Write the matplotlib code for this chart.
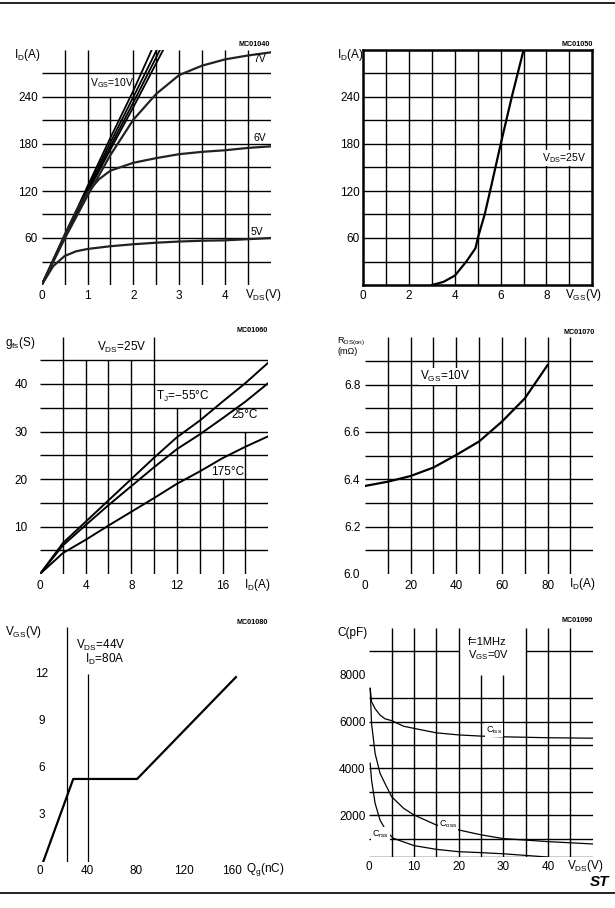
import matplotlib
matplotlib.use("Agg")
import matplotlib.pyplot as plt
from matplotlib.lines import Line2D

plt.rcParams['font.family'] = ['Liberation Sans', 'DejaVu Sans']
plt.rcParams['mathtext.fontset'] = 'custom'
plt.rcParams['mathtext.rm'] = 'Liberation Sans'
plt.rcParams['mathtext.it'] = 'Liberation Sans:italic'
plt.rcParams['mathtext.bf'] = 'Liberation Sans:bold'

# ---------------- data ----------------
# Output characteristics (ID vs VDS)
vds_10v = [0, 0.5, 1.0, 1.5, 2.0, 2.40]
id_10v = [0, 63, 126, 188, 248, 300]
vds_9v = [0, 0.5, 1.0, 1.5, 2.0, 2.51]
id_9v = [0, 62, 123, 182, 240, 300]
vds_8v = [0, 0.5, 1.0, 1.5, 2.0, 2.58]
id_8v = [0, 61, 120, 177, 233, 300]
vds_75v = [0, 0.5, 1.0, 1.5, 2.0, 2.65]
id_75v = [0, 60, 118, 173, 227, 300]
vds_7v = [0, 0.5, 1.0, 1.5, 2.0, 2.5, 3.0, 3.5, 4.0, 4.5, 5.0]
id_7v = [0, 59, 114, 166, 211, 244, 268, 280, 288, 293, 297]
vds_6v = [0, 0.25, 0.5, 0.75, 1.0, 1.25, 1.5, 2.0, 2.5, 3.0, 3.5, 4.0, 4.5, 5.0]
id_6v = [0, 32, 64, 94, 118, 135, 146, 156, 162, 167, 170, 172, 175, 177]
vds_5v = [0, 0.25, 0.5, 0.75, 1.0, 1.5, 2.0, 2.5, 3.0, 3.5, 4.0, 4.5, 5.0]
id_5v = [0, 24, 37, 43, 46, 49.5, 52, 54, 55.5, 56.5, 57, 58.5, 60]

# Transfer characteristics (ID vs VGS)
vgs_tr = [3.0, 3.5, 4.0, 4.5, 4.9, 5.0, 5.3, 5.6, 6.0, 6.5, 7.0]
id_tr = [0, 4, 12, 30, 47, 60, 90, 128, 180, 242, 300]

# Transconductance (gfs vs ID)
id_gfs = [0, 2, 4, 6, 8, 10, 12, 14, 16, 18, 20]
gfs_m55 = [0, 6.5, 11.0, 15.5, 20.0, 24.5, 28.8, 32.3, 36.3, 40.2, 44.5]
gfs_25 = [0, 6.0, 10.3, 14.5, 18.5, 22.5, 26.3, 29.4, 32.8, 36.3, 40.2]
gfs_175 = [0, 4.4, 7.2, 10.2, 13.1, 16.0, 19.0, 21.6, 24.4, 26.8, 29.0]

# Static drain-source on resistance
id_rds = [0, 10, 20, 30, 40, 50, 60, 70, 80]
rds_on = [6.372, 6.39, 6.414, 6.45, 6.503, 6.56, 6.644, 6.742, 6.883]

# Gate charge
qg_nc = [3, 28, 81, 163]
vgs_qg = [0, 5.3, 5.3, 11.8]

# Capacitance variations
vds_c = [0.2, 0.5, 1.3, 2.4, 3.5, 5, 7.7, 10, 15, 20, 25, 30, 40, 50]
c_iss = [7420, 6850, 6550, 6280, 6120, 6040, 5800, 5710, 5520, 5430, 5380, 5350, 5310, 5290]
c_oss = [7420, 5930, 4640, 3790, 3360, 2790, 2290, 2010, 1580, 1370, 1160, 1000, 870, 770]
vds_crss = [0.2, 0.5, 1.3, 2.4, 3.9, 5.4, 10, 15, 20, 25, 30, 35, 40]
c_rss = [4220, 3500, 2510, 1790, 1290, 1010, 700, 540, 440, 400, 350, 280, 210]

# tick labels
p1_xt = [0, 1, 2, 3, 4]; p1_yt = [60, 120, 180, 240]
p2_xt = [0, 2, 4, 6, 8]; p2_yt = [60, 120, 180, 240]
p3_xt = [0, 4, 8, 12, 16]; p3_yt = [10, 20, 30, 40]
p4_xt = [0, 20, 40, 60, 80]; p4_yt = [6.0, 6.2, 6.4, 6.6, 6.8]
p5_xt = [0, 40, 80, 120, 160]; p5_yt = [3, 6, 9, 12]
p6_xt = [0, 10, 20, 30, 40]; p6_yt = [2000, 4000, 6000, 8000]

# ---------------- figure ----------------
W, H = 615, 908
fig = plt.figure(figsize=(W / 100, H / 100), dpi=100)

GRID = dict(colors='black', lw=1.0)
TICK = 8.5
ANN = 8.0


def sub(base, s, tail=''):
    return base + r'$_\mathrm{' + s + '}$' + tail


def add_ax(l, r, t, b):
    ax = fig.add_axes([l / W, 1 - b / H, (r - l) / W, (b - t) / H])
    for sp in ax.spines.values():
        sp.set_visible(False)
    return ax


def ftext(x, y, s, **kw):
    kw.setdefault('fontsize', ANN)
    fig.text(x / W, 1 - y / H, s, **kw)


def mc(x, y, s):
    ftext(x, y, s, ha='right', va='center', fontsize=5.2, fontweight='bold')


def ticks(ax, xt, yt, xpad, ypad, yfmt=None):
    ax.set_xticks(xt, [str(v) for v in xt])
    if yt is not None:
        ax.set_yticks(yt, [yfmt(v) if yfmt else str(v) for v in yt])
    else:
        ax.set_yticks([])
    ax.tick_params(axis='x', length=0, pad=xpad, labelsize=TICK)
    ax.tick_params(axis='y', length=0, pad=ypad, labelsize=TICK)


def label(ax, x, y, s, **kw):
    kw.setdefault('fontsize', ANN)
    kw.setdefault('va', 'center')
    ax.text(x, y, s, **kw)


WB = dict(facecolor='white', edgecolor='none', pad=0.6)

# page rules
fig.add_artist(Line2D([0, 1], [1 - 3 / H] * 2, color='black', lw=1.2))
fig.add_artist(Line2D([0, 1], [1 - 893 / H] * 2, color='black', lw=1.2))
ftext(600, 882, 'ST', ha='center', va='center', fontsize=11,
      fontweight='bold', fontstyle='italic')

# ---- Panel 1: output characteristics ----
ax1 = add_ax(41.7, 270.8, 50, 285)
ax1.set_xlim(0, 5); ax1.set_ylim(0, 300)
ax1.vlines([0.5, 1, 1.5, 2, 2.5, 3, 3.5, 4, 4.5], 0,
           [300, 300, 240, 300, 300, 300, 300, 300, 300], **GRID)
ax1.hlines([30, 60, 90, 120, 150, 180, 210, 240, 270], 0, 5, **GRID)
for vx, iy in [(vds_10v, id_10v), (vds_9v, id_9v), (vds_8v, id_8v),
               (vds_75v, id_75v)]:
    ax1.plot(vx, iy, color='black', lw=1.3)
for vx, iy in [(vds_7v, id_7v), (vds_6v, id_6v), (vds_5v, id_5v)]:
    ax1.plot(vx, iy, color='#222222', lw=1.6)
label(ax1, 1.05, 258, sub('V', 'GS', '=10V'), fontsize=7.5)
label(ax1, 4.62, 289, '7V', fontsize=7.5)
label(ax1, 4.62, 188, '6V', fontsize=7.5)
label(ax1, 4.55, 68, '5V', fontsize=7.5)
ticks(ax1, p1_xt, p1_yt, 3.3, 2.8)
ftext(14, 55, sub('I', 'D', '(A)'), ha='left', va='center', fontsize=TICK)
ftext(263, 295, sub('V', 'DS', '(V)'), ha='center', va='center', fontsize=TICK)
mc(270, 45, 'MC01040')

# ---- Panel 2: transfer characteristics ----
ax2 = add_ax(363.3, 592.3, 50, 285)
ax2.set_xlim(0, 10); ax2.set_ylim(0, 300)
for sp in ax2.spines.values():
    sp.set_visible(True); sp.set_linewidth(1.8)
ax2.vlines(range(1, 10), 0, 300, **GRID)
ax2.hlines([30, 60, 90, 120, 150, 180, 210, 240, 270], 0, 10, **GRID)
ax2.plot(vgs_tr, id_tr, color='black', lw=1.6)
label(ax2, 7.8, 162, sub('V', 'DS', '=25V'), fontsize=7.5, bbox=WB)
ticks(ax2, p2_xt, p2_yt, 3.3, 2.5)
ftext(337, 55, sub('I', 'D', '(A)'), ha='left', va='center', fontsize=TICK)
ftext(584, 295, sub('V', 'GS', '(V)'), ha='center', va='center', fontsize=TICK)
mc(593, 45, 'MC01050')

# ---- Panel 3: transconductance ----
ax3 = add_ax(40, 268.3, 336.5, 574)
ax3.set_xlim(0, 20); ax3.set_ylim(0, 50)
ax3.vlines([2, 4, 6, 8, 10, 12, 14, 16, 18], 0,
           [50, 45, 45, 45, 50, 35, 35, 20, 30], **GRID)
ax3.hlines([5, 10, 15, 20, 25, 30, 35, 40, 45], 0, 20, **GRID)
for g in (gfs_m55, gfs_25, gfs_175):
    ax3.plot(id_gfs, g, color='black', lw=1.4)
label(ax3, 5.0, 47.6, sub('V', 'DS', '=25V'), fontsize=8.5)
label(ax3, 10.2, 37.4, sub('T', 'J', '=\u221255\u00b0C'), fontsize=8.5)
label(ax3, 16.8, 33.5, '25\u00b0C', fontsize=8.5)
label(ax3, 15.0, 21.4, '175\u00b0C', fontsize=8.5)
ticks(ax3, p3_xt, p3_yt, 4.0, 9.0)
ftext(5, 343, sub('g', 'fs', '(S)'), ha='left', va='center', fontsize=TICK)
ftext(257.5, 585, sub('I', 'D', '(A)'), ha='center', va='center', fontsize=TICK)
mc(268, 331, 'MC01060')

# ---- Panel 4: RDS(on) ----
ax4 = add_ax(365, 593.3, 337.3, 574)
ax4.set_xlim(0, 100); ax4.set_ylim(6.0, 7.0)
ax4.vlines([10, 20, 30, 40, 50, 60, 70, 80, 90], 6.0, 7.0, **GRID)
ax4.hlines([6.1, 6.2, 6.3, 6.4, 6.5, 6.6, 6.7, 6.8, 6.9], 0, 100, **GRID)
ax4.plot(id_rds, rds_on, color='black', lw=1.6)
label(ax4, 24, 6.834, sub('V', 'GS', '=10V'), fontsize=8.5, bbox=WB)
ticks(ax4, p4_xt, p4_yt, 4.0, 3.4, yfmt=lambda v: f'{v:.1f}')
ftext(337, 342, sub('R', 'DS(on)'), ha='left', va='center', fontsize=6.5)
ftext(338, 352, '(m\u03a9)', ha='left', va='center', fontsize=6.5)
ftext(582.5, 584, sub('I', 'D', '(A)'), ha='center', va='center', fontsize=TICK)
mc(595, 333, 'MC01070')

# ---- Panel 5: gate charge ----
ax5 = add_ax(39.5, 256.4, 627, 862)
ax5.set_xlim(0, 180); ax5.set_ylim(0, 15)
ax5.vlines([23, 40], 0, [15, 12], colors='black', lw=0.9)
ax5.plot(qg_nc, vgs_qg, color='black', lw=1.6)
label(ax5, 30.3, 13.85, sub('V', 'DS', '=44V'), fontsize=8.5)
label(ax5, 37.8, 12.9, sub('I', 'D', '=80A'), fontsize=8.5)
ticks(ax5, p5_xt, None, 2.0, 0)
for v in p5_yt:
    ax5.text(1.8, v, str(v), ha='center', va='center', fontsize=TICK)
ftext(5, 632, sub('V', 'GS', '(V)'), ha='left', va='center', fontsize=TICK)
ftext(265, 870, sub('Q', 'g', '(nC)'), ha='center', va='center', fontsize=TICK)
mc(268, 622, 'MC01080')

# ---- Panel 6: capacitance ----
ax6 = add_ax(369.3, 592.7, 628, 857.3)
ax6.set_xlim(0, 50); ax6.set_ylim(200, 10000)
ax6.vlines([5, 10, 15, 20, 25, 30, 35, 40, 45], 200,
           [10000, 10000, 10000, 10000, 8000, 8000, 10000, 10000, 10000], **GRID)
ax6.hlines([200, 1000, 2000, 3000, 4000, 5000, 6000, 7000], 0, 50, **GRID)
ax6.hlines([9000, 9000], [0, 35], [20, 50], **GRID)
ax6.plot(vds_c, c_iss, color='black', lw=0.9)
ax6.plot(vds_c, c_oss, color='black', lw=0.9)
ax6.plot(vds_crss, c_rss, color='black', lw=0.9)
label(ax6, 22, 9420, 'f=1MHz', fontsize=8)
label(ax6, 22, 8830, sub('V', 'GS', '=0V'), fontsize=8)
label(ax6, 26.1, 5640, sub('C', 'iss'), fontsize=6.5, bbox=WB)
label(ax6, 15.5, 1623, sub('C', 'oss'), fontsize=6.5, bbox=WB)
label(ax6, 0.6, 1196, sub('C', 'rss'), fontsize=6.5, bbox=WB)
ticks(ax6, p6_xt, p6_yt, 3.0, 2.8)
ftext(337, 633, 'C(pF)', ha='left', va='center', fontsize=TICK)
ftext(585.5, 866, sub('V', 'DS', '(V)'), ha='center', va='center', fontsize=TICK)
mc(593, 621, 'MC01090')

fig.savefig('out.png', dpi=100)
